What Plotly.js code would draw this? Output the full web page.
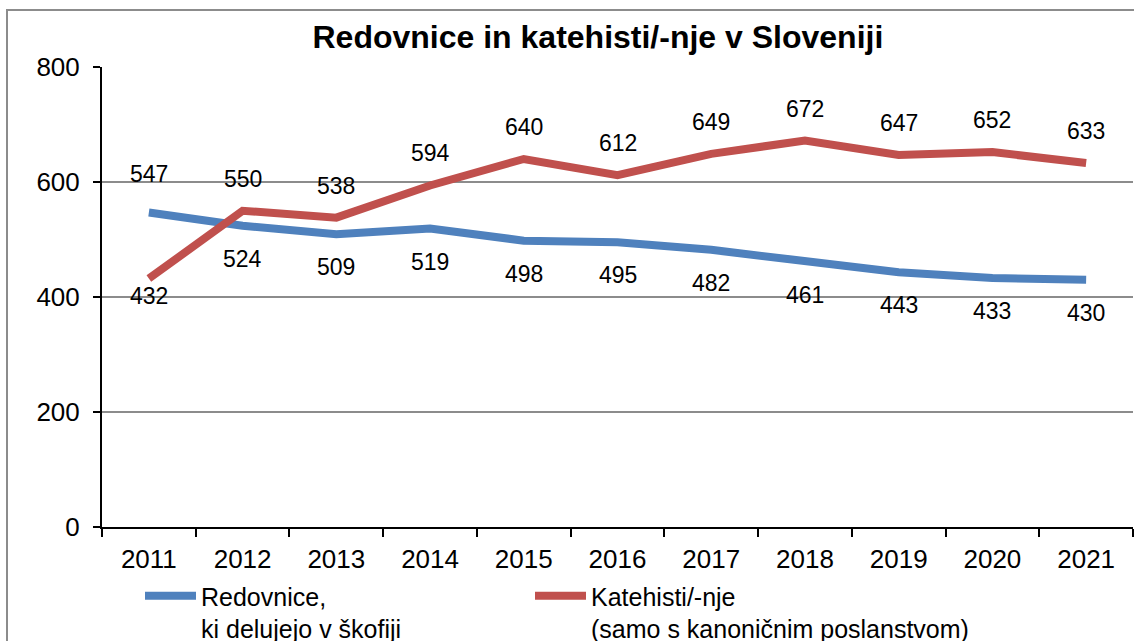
<!DOCTYPE html>
<html>
<head>
<meta charset="utf-8">
<script src="https://cdn.plot.ly/plotly-3.0.1.min.js"></script>
<style>html,body{margin:0;padding:0;background:#fff;}#chart{width:1134px;height:641px;}</style>
</head>
<body>
<div id="chart"></div>
<script>
const years = ['2011','2012','2013','2014','2015','2016','2017','2018','2019','2020','2021'];
const redovnice = [547, 524, 509, 519, 498, 495, 482, 461, 443, 433, 430];
const katehisti = [432, 550, 538, 594, 640, 612, 649, 672, 647, 652, 633];
const seriesNames = ['Redovnice,<br>ki delujejo v škofiji', 'Katehisti/-nje<br>(samo s kanoničnim poslanstvom)'];
const yTicks = [0, 200, 400, 600, 800];

const FONT = 'Arial, Liberation Sans, sans-serif';
const BLUE = '#4F81BD', RED = '#C0504D';

const traces = [
  {x: years, y: redovnice, name: seriesNames[0], mode: 'lines', type: 'scatter',
   line: {color: BLUE, width: 8}, hoverinfo: 'skip', legend: 'legend'},
  {x: years, y: katehisti, name: seriesNames[1], mode: 'lines', type: 'scatter',
   line: {color: RED, width: 8}, hoverinfo: 'skip', legend: 'legend2'}
];

const labelAnnotations = [];
for (let i = 0; i < years.length; i++) {
  const bAbove = redovnice[i] > katehisti[i];
  labelAnnotations.push({xref: 'x', yref: 'y', x: i, y: redovnice[i], text: String(redovnice[i]),
    showarrow: false, yshift: bAbove ? 38 : -33, font: {family: FONT, size: 23, color: '#000000'}});
  labelAnnotations.push({xref: 'x', yref: 'y', x: i, y: katehisti[i], text: String(katehisti[i]),
    showarrow: false, yshift: bAbove ? -17 : 32, font: {family: FONT, size: 23, color: '#000000'}});
}

const L = 102, T = 67, W = 1031, H = 460;
const legendCommon = {orientation: 'v', xanchor: 'left', yanchor: 'top', valign: 'top',
  font: {family: FONT, size: 25, color: '#000000'}, bgcolor: 'rgba(0,0,0,0)', itemwidth: 51};
const layout = {
  width: 1134, height: 641,
  margin: {l: L, r: 1134 - L - W, t: T, b: 641 - T - H, pad: 0, autoexpand: false},
  paper_bgcolor: '#ffffff', plot_bgcolor: '#ffffff',
  font: {family: FONT, size: 26, color: '#000000'},
  title: {text: '<b>Redovnice in katehisti/-nje v Sloveniji</b>', font: {family: FONT, size: 32, color: '#000000'},
    x: 0.481, xanchor: 'center', y: 1 - 37/641, yanchor: 'middle', xref: 'paper', yref: 'container'},
  xaxis: {type: 'category', range: [-0.5, 10.5], tickson: 'boundaries', ticks: 'outside', ticklen: 8,
    tickwidth: 2, tickcolor: '#000000', showline: true, linecolor: '#000000', linewidth: 2, showgrid: false,
    zeroline: false, ticklabelstandoff: 8, tickfont: {family: FONT, size: 26, color: '#000000'},
    fixedrange: true, automargin: false},
  yaxis: {range: [0, 800], tickvals: yTicks, ticktext: yTicks.map(String), ticks: 'outside', ticklen: 7,
    tickwidth: 2, tickcolor: '#000000', showline: true, linecolor: '#000000', linewidth: 2,
    showgrid: true, gridcolor: '#8c8c8c', gridwidth: 2, zeroline: false, ticklabelstandoff: 8,
    tickfont: {family: FONT, size: 26, color: '#000000'}, fixedrange: true, automargin: false},
  showlegend: true,
  legend: Object.assign({}, legendCommon, {x: (140 - L) / W, y: -(573 - T - H) / H}),
  legend2: Object.assign({}, legendCommon, {x: (530 - L) / W, y: -(573 - T - H) / H}),
  annotations: labelAnnotations,
  shapes: [{type: 'rect', xref: 'paper', yref: 'paper', x0: (7 - L) / W, x1: 1.2,
    y0: -0.5, y1: (T + H - 10) / H, line: {color: '#8c8c8c', width: 2}, fillcolor: 'rgba(0,0,0,0)', layer: 'below'}]
};

Plotly.newPlot('chart', traces, layout, {displayModeBar: false, staticPlot: true});
</script>
</body>
</html>
